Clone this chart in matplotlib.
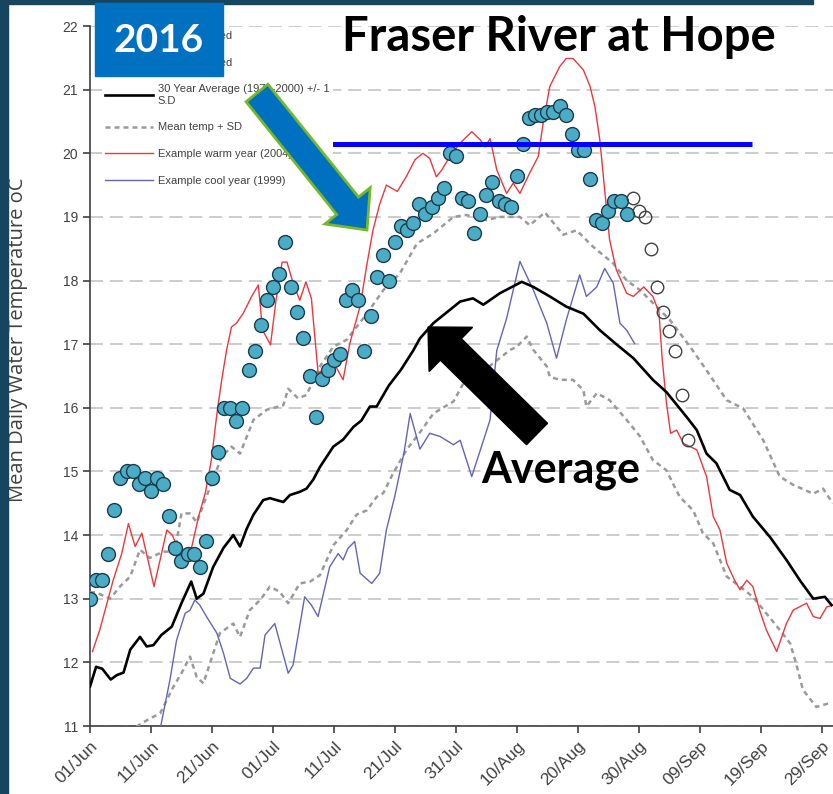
import numpy as np
import pandas as pd
import matplotlib
matplotlib.use("Agg")
import matplotlib.pyplot as plt
from matplotlib.patches import Rectangle, FancyArrow
from matplotlib.lines import Line2D

# day numbers are days after 01 June
obs_days = np.arange(0, 89)
obs_temp = [13.0, 13.3, 13.3, 13.7, 14.4, 14.9, 15.0, 15.0, 14.8, 14.9,
            14.7, 14.9, 14.8, 14.3, 13.8, 13.6, 13.7, 13.7, 13.5, 13.9,
            14.9, 15.3, 16.0, 16.0, 15.8, 16.0, 16.6, 16.9, 17.3, 17.7,
            17.9, 18.1, 18.6, 17.9, 17.5, 17.1, 16.5, 15.85, 16.45, 16.6,
            16.75, 16.85, 17.7, 17.85, 17.7, 16.9, 17.45, 18.05, 18.4, 18.0,
            18.6, 18.85, 18.8, 18.9, 19.2, 19.05, 19.15, 19.3, 19.45, 20.0,
            19.95, 19.3, 19.25, 18.75, 19.05, 19.35, 19.55, 19.25, 19.2, 19.15,
            19.65, 20.15, 20.55, 20.6, 20.6, 20.65, 20.65, 20.75, 20.6, 20.3,
            20.05, 20.05, 19.6, 18.95, 18.9, 19.1, 19.25, 19.25, 19.05]
fc_days = np.arange(89, 99)
fc_temp = [19.3, 19.1, 19.0, 18.5, 17.9, 17.5, 17.2, 16.9, 16.2, 15.5]

avg_days = [0, 1, 2, 3.4, 4.4, 5.5, 6.6, 8.2, 9.3, 10.4, 11.7, 13.4, 15, 16.6, 17.5,
            18.6, 20.2, 21.9, 23.5, 24.6, 25.7, 26.8, 28.4, 29.5, 31.7, 32.8, 34.4,
            35.5, 36.6, 37.7, 39.9, 41.5, 43.2, 44.5, 45.9, 47, 49, 51, 53, 54.1,
            56.3, 58.5, 60.7, 62.8, 64.5, 67.2, 70.8, 72.7, 75.4, 78.1, 80.9, 83.6,
            86.3, 89.1, 92.3, 94.5, 97.8, 99.5, 101.1, 102.7, 104.9, 106.6, 108.7,
            111.5, 114.2, 116.4, 118.6, 120.5, 121.6]
avg_temp = [11.62, 11.93, 11.9, 11.73, 11.8, 11.84, 12.2, 12.4, 12.25, 12.27, 12.43,
            12.56, 12.93, 13.27, 13.0, 13.08, 13.5, 13.8, 14.0, 13.82, 14.1, 14.32,
            14.55, 14.58, 14.52, 14.63, 14.68, 14.73, 14.87, 15.07, 15.39, 15.5,
            15.7, 15.8, 16.02, 16.02, 16.35, 16.6, 16.9, 17.09, 17.33, 17.5, 17.67,
            17.72, 17.62, 17.8, 17.98, 17.9, 17.75, 17.59, 17.48, 17.22, 17.0,
            16.78, 16.44, 16.25, 15.86, 15.65, 15.28, 15.13, 14.71, 14.63, 14.29,
            13.97, 13.61, 13.29, 13.0, 13.03, 12.9]

upper_days = [0, 1, 3.3, 5, 6.6, 8.2, 9.8, 12, 13.9, 15, 16.4, 17.5, 19.9, 21.6,
              23.2, 24.6, 26.8, 29, 31.7, 32.5, 34.1, 35.5, 37.7, 39.9, 42.1, 45.4,
              48.1, 50.8, 53.6, 56.3, 59.6, 61.7, 65, 67.2, 70.5, 72.1, 74.6, 77.6,
              79.8, 82.5, 85.8, 88, 90.2, 92.9, 95.1, 98.4, 101.1, 104.4, 107.1,
              110.4, 113.1, 115.3, 118.6, 120.2, 121.8]
upper_temp = [13.1, 13.1, 13.0, 13.2, 13.35, 13.77, 13.64, 13.74, 13.74, 14.34,
              14.34, 14.2, 14.81, 15.23, 15.39, 15.28, 15.81, 15.97, 16.04, 16.3,
              16.15, 16.2, 16.65, 16.96, 17.07, 17.48, 17.85, 18.11, 18.58, 18.74,
              19.0, 19.03, 18.95, 19.0, 19.0, 18.87, 19.07, 18.72, 18.79, 18.53,
              18.27, 18.0, 17.85, 17.59, 17.38, 16.96, 16.59, 16.12, 15.99, 15.49,
              14.92, 14.79, 14.65, 14.73, 14.5]

lower_days = [7.6, 9.5, 11.5, 13.7, 15, 16.4, 17.5, 18.6, 20.2, 21.3, 23.5, 24.6,
              26.2, 27.9, 29.5, 31.1, 32.5, 34.4, 36.1, 37.7, 39.9, 42.1, 43.7,
              45.4, 47, 48.1, 49.7, 51.9, 54, 56.3, 59.6, 61.2, 63.4, 66.1, 68.9,
              70, 71.6, 72.7, 74.9, 75.4, 77, 79.2, 80.9, 81.4, 83.1, 85.2, 88,
              90.2, 92.3, 94.5, 96.7, 98.9, 100.5, 102.2, 104.4, 106.6, 108.7,
              110.9, 113.1, 114.8, 115.8, 116.9, 119.1, 121.3]
lower_temp = [10.99, 11.1, 11.2, 11.62, 11.83, 12.09, 11.77, 11.67, 12.14, 12.46,
              12.61, 12.4, 12.82, 12.98, 13.19, 13.11, 12.93, 13.24, 13.27, 13.37,
              13.84, 14.08, 14.32, 14.39, 14.6, 14.66, 14.97, 15.34, 15.6, 15.91,
              16.1, 16.38, 16.49, 16.7, 16.91, 16.96, 17.12, 16.91, 16.65, 16.49,
              16.44, 16.44, 16.28, 16.02, 16.23, 16.12, 15.81, 15.55, 15.18, 15.02,
              14.6, 14.39, 14.03, 13.87, 13.35, 13.19, 13.03, 12.77, 12.51, 12.3,
              11.98, 11.57, 11.3, 11.36]

warm_days = [0.4, 1.6, 3.8, 5.2, 6.3, 7.4, 8.5, 10.5, 12.6, 13.5, 14.5, 15.6, 16.7,
             17.8, 18.9, 19.9, 20.8, 21.6, 22.4, 23.2, 24, 25.1, 26.5, 27.6, 28.3,
             29.6, 30.5, 31.5, 32.3, 33.3, 34.4, 35.4, 36.3, 37.4, 38.2, 39.9, 41.5,
             42.6, 44.3, 45.4, 46.4, 47.5, 48.6, 50.4, 51.9, 53.3, 54.6, 55.7, 56.8,
             57.7, 59, 60.7, 62.6, 64, 64.8, 65.6, 66.7, 68.3, 69.4, 70.5, 72.1,
             73.5, 74.3, 75.4, 77, 78.1, 79.2, 80.9, 82, 82.8, 83.6, 84.4, 85.2,
             86.3, 88, 89.1, 90.8, 92.3, 93.3, 93.8, 94.5, 95.2, 96.2, 97.3, 99.5,
             101.1, 102.2, 103.3, 104.4, 105.7, 106.6, 107.7, 108.7, 109.8, 110.9,
             112.6, 114.2, 115.3, 117.5, 118.6, 119.7, 120.8, 121.8]
warm_temp = [12.17, 12.51, 13.29, 13.71, 14.18, 13.82, 14.03, 13.19, 14.08, 14.0,
             13.77, 13.71, 13.82, 14.29, 14.66, 15.18, 15.9, 16.44, 16.91, 17.27,
             17.33, 17.48, 17.75, 17.93, 17.22, 16.99, 17.69, 18.29, 18.29, 17.96,
             17.69, 17.98, 17.72, 16.55, 16.59, 16.72, 16.44, 17.01, 17.6, 18.25,
             18.79, 19.2, 19.5, 19.4, 19.64, 19.9, 20.0, 19.92, 19.63, 19.74, 19.95,
             20.16, 20.34, 20.21, 20.1, 20.23, 19.74, 19.37, 19.53, 19.37, 19.69,
             19.95, 20.47, 21.05, 21.36, 21.49, 21.49, 21.31, 21.05, 20.73, 20.21,
             19.42, 18.64, 18.17, 17.8, 17.75, 17.9, 17.75, 17.5, 16.8, 16.1, 15.6,
             15.65, 15.44, 15.34, 14.92, 14.29, 14.08, 13.56, 13.29, 13.14, 13.29,
             13.19, 12.82, 12.51, 12.17, 12.61, 12.82, 12.93, 12.72, 12.69, 12.87,
             12.9]

cool_days = [11.5, 13.1, 14.2, 15.6, 16.4, 17.2, 18, 19.1, 20.8, 21.9, 23, 24.6,
             25.7, 26.8, 27.9, 28.7, 30.3, 31.4, 32.5, 33.3, 35.2, 36.3, 37.4, 39.3,
             40.7, 41.5, 42.3, 43.4, 44.3, 46.2, 47.5, 48.6, 50, 51.5, 52.5, 54.1,
             55.7, 57.4, 59.6, 60.7, 62.6, 65.6, 66.7, 68.3, 70.5, 72.7, 74.9, 76.5,
             78.1, 80.3, 81.4, 83.1, 84.4, 85.8, 86.9, 88, 89.3]
cool_temp = [10.95, 11.72, 12.35, 12.77, 12.82, 12.98, 12.9, 12.72, 12.46, 12.14,
             11.75, 11.66, 11.75, 11.91, 11.91, 12.43, 12.61, 12.22, 11.83, 11.96,
             13.03, 12.9, 12.72, 13.5, 13.71, 13.61, 13.79, 13.9, 13.4, 13.24, 13.4,
             14.08, 14.62, 15.3, 15.91, 15.35, 15.6, 15.55, 15.42, 15.49, 14.92,
             15.81, 16.9, 17.4, 18.3, 17.85, 17.33, 16.78, 17.38, 18.09, 17.75,
             17.9, 18.19, 17.96, 17.33, 17.22, 17.01]

tick_days = np.arange(0, 121, 10)
tick_labels = [(pd.Timestamp("2016-06-01") + pd.Timedelta(days=int(d))).strftime("%d/%b")
               for d in tick_days]
target_temp = 20.15

W, H = 833, 794
fig = plt.figure(figsize=(W / 100, H / 100), dpi=100)
ax = fig.add_axes([90 / W, 68 / H, 744 / W, 700 / H])

gray = "#9a9a9a"
ax.plot(upper_days, upper_temp, color=gray, lw=1.8, ls=(0, (2.0, 1.6)), zorder=3)
ax.plot(lower_days, lower_temp, color=gray, lw=1.8, ls=(0, (2.0, 1.6)), zorder=3)
ax.plot(warm_days, warm_temp, color="#e8393f", lw=1.0, zorder=3)
ax.plot(cool_days, cool_temp, color="#6464b4", lw=1.0, zorder=3)
ax.plot(avg_days, avg_temp, color="black", lw=1.9, zorder=4)
ax.plot(obs_days, obs_temp, ls="none", marker="o", ms=10, mfc="#4bacc6",
        mec="#1c3c4c", mew=1.0, zorder=5)
ax.plot(fc_days, fc_temp, ls="none", marker="o", ms=9, mfc="none",
        mec="#404040", mew=1.0, zorder=5)
ax.hlines(target_temp, 38.5, 108.5, color="#0000ff", lw=3.6, zorder=6)

ax.set_xlim(0, 122)
ax.set_ylim(11, 22)
ax.set_yticks(range(11, 23))
ax.set_xticks(tick_days)
ax.set_xticklabels(tick_labels, rotation=45, ha="right", rotation_mode="anchor",
                   fontsize=12.5, family="Liberation Sans", color="#404040")
for lab in ax.get_yticklabels():
    lab.set_family("Liberation Sans")
    lab.set_fontsize(10)
    lab.set_color("#404040")
ax.yaxis.grid(True, color="#c8c8c8", lw=1.3, ls=(0, (7.2, 3.8)), zorder=0)
ax.set_axisbelow(True)
for s in ["top", "right"]:
    ax.spines[s].set_visible(False)
for s in ["left", "bottom"]:
    ax.spines[s].set_color("#404040")
    ax.spines[s].set_linewidth(1.2)
ax.tick_params(direction="out", length=5, color="#404040", width=1.2)
ax.tick_params(axis="x", pad=4)

handles = [
    Line2D([], [], ls="none", marker="o", ms=10, mfc="#4bacc6", mec="#1c3c4c"),
    Line2D([], [], ls="none", marker="o", ms=9, mfc="none", mec="#404040"),
    Line2D([], [], color="black", lw=1.9),
    Line2D([], [], color=gray, lw=1.8, ls=(0, (2.0, 1.6))),
    Line2D([], [], color="#e8393f", lw=1.0),
    Line2D([], [], color="#6464b4", lw=1.0),
]
labels = ["2016 observed", "2016 predicted",
          "30 Year Average (1971-2000) +/- 1\nS.D", "Mean temp + SD",
          "Example warm year (2004)", "Example cool year (1999)"]
leg = ax.legend(handles, labels, loc="upper left",
                bbox_to_anchor=(96 / W, 1 - 22 / H), bbox_transform=fig.transFigure,
                prop={"family": "Liberation Sans", "size": 8},
                handlelength=4.3, handletextpad=0.45, labelspacing=1.5,
                frameon=True, facecolor="white", edgecolor="none", framealpha=1,
                borderpad=0.3)
for t in leg.get_texts():
    t.set_color("#404040")
leg.set_zorder(7)

fig.text(18 / W, 1 - 340 / H, "Mean Daily Water Temperature oC", rotation=90,
         ha="center", va="center", fontsize=14.5, family="Open Sans", color="#404040")

# overlays in pixel space (1 inch = 100 px)
def px(x, y):
    return x / 100, (H - y) / 100

tr = fig.dpi_scale_trans
fig.add_artist(Rectangle((0, 0), 8 / 100, H / 100, transform=tr, color="#17455f", zorder=20))
fig.add_artist(Rectangle(px(0, 4), 813 / 100, 4 / 100, transform=tr, color="#17455f", zorder=20))
fig.add_artist(Rectangle(px(95, 76), 128 / 100, 73 / 100, transform=tr, color="#0070c0", zorder=20))
fig.text(159 / W, 1 - 41 / H, "2016", ha="center", va="center", color="white",
         fontsize=28, fontweight="bold", family="Lato", zorder=21)
fig.text(559 / W, 1 - 37 / H, "Fraser River at Hope", ha="center", va="center",
         color="black", fontsize=34, fontweight="bold", family="Lato", zorder=21)
fig.text(561 / W, 1 - 470 / H, "Average", ha="center", va="center",
         color="black", fontsize=31, fontweight="bold", family="Lato", zorder=21)

x0, y0 = px(257, 93)
x1, y1 = px(367, 230)
fig.add_artist(FancyArrow(x0, y0, x1 - x0, y1 - y0, width=0.28, head_width=0.58,
                          head_length=0.31, length_includes_head=True, transform=tr,
                          facecolor="#0070c0", edgecolor="#76b82a", lw=2, zorder=20))
x0, y0 = px(537, 434)
x1, y1 = px(428, 327)
fig.add_artist(FancyArrow(x0, y0, x1 - x0, y1 - y0, width=0.30, head_width=0.62,
                          head_length=0.32, length_includes_head=True, transform=tr,
                          facecolor="black", edgecolor="black", lw=1, zorder=20))

fig.savefig("out.png", dpi=100)
